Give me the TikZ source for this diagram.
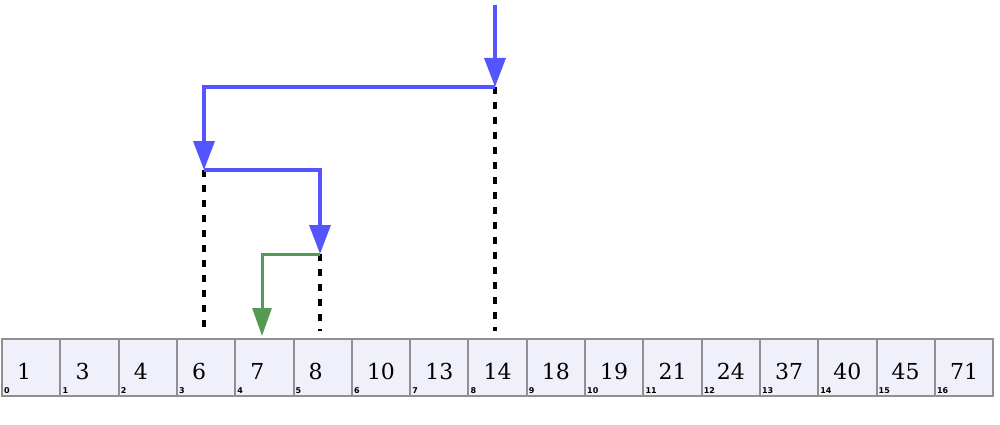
\documentclass[tikz,border=0pt]{standalone}
\usepackage{fontspec}
\setmainfont{DejaVu Serif}
\newfontfamily\idxfont{DejaVu Sans}
\usetikzlibrary{arrows.meta}
\definecolor{blueln}{HTML}{5555FF}
\definecolor{greenln}{HTML}{559955}
\definecolor{cellfill}{HTML}{F0F0FA}
\definecolor{cellbd}{HTML}{909090}
\begin{document}
\begin{tikzpicture}[x=1pt,y=-1pt,
 cell/.style={draw=cellbd, fill=cellfill, line width=2pt, minimum width=58.3pt, minimum height=57pt, inner sep=0pt, anchor=north west},
 num/.style={anchor=base west, inner sep=0pt, font=\fontsize{22}{22}\selectfont},
 idx/.style={anchor=base west, inner sep=0pt, font=\idxfont\bfseries\fontsize{8}{8}\selectfont},
 bluearrow/.style={draw=blueln, line width=3.5pt, line join=miter, -{Triangle[width=21pt,length=29pt]}},
 greenarrow/.style={draw=greenln, line width=3pt, line join=miter, -{Triangle[width=19pt,length=28pt]}},
 guide/.style={draw=black, line width=3.2pt, dash pattern=on 7pt off 8pt}
]
\useasboundingbox (0,0) rectangle (1000,425);
\foreach \v [count=\i from 0] in {1,3,4,6,7,8,10,13,14,18,19,21,24,37,40,45,71} {
  \node[cell] (c\i) at (\i*58.3+1, 337.5) {};
  \node[num] (n\i) at ([xshift=16pt,yshift=-42pt]c\i.north west) {\v};
  \node[idx] (i\i) at ([xshift=3pt,yshift=3pt]c\i.south west) {\i};
}
\coordinate (top) at (495,5);
\coordinate (p1) at (495,87);
\coordinate (q1) at (204,87);
\coordinate (p2) at (204,170);
\coordinate (q2) at (320,170);
\coordinate (p3) at (320,254);
\coordinate (p4) at (262,254);
\coordinate (p5) at (262,336);
\coordinate (d1) at (495,331);
\coordinate (d2) at (204,331);
\coordinate (d3) at (320,331);
\draw[guide] (p1) -- (d1);
\draw[guide] (p2) -- (d2);
\draw[guide] (p3) -- (d3);
\draw[bluearrow] (top) -- (p1);
\draw[bluearrow] (p1) -- (q1) -- (p2);
\draw[bluearrow] (p2) -- (q2) -- (p3);
\draw[greenarrow] (p3) -- (p4) -- (p5);
\end{tikzpicture}
\end{document}
